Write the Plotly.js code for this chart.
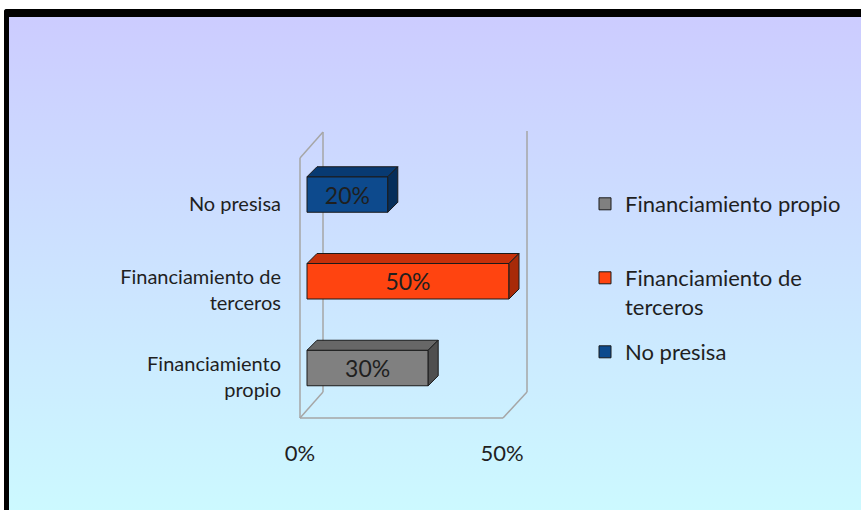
<!DOCTYPE html>
<html>
<head>
<meta charset="utf-8">
<script src="https://cdn.plot.ly/plotly-3.0.1.min.js"></script>
<style>
  html, body { margin: 0; padding: 0; width: 861px; height: 510px; overflow: hidden; background: #ffffff; }
  #frame {
    position: absolute; left: 4px; top: 9px; width: 900px; height: 560px;
    border-top: 8px solid #000; border-left: 5px solid #000; border-top-left-radius: 3px;
    background: linear-gradient(to bottom, #ccccff 0%, #ccffff 100%);
  }
  #chart { position: absolute; left: 0; top: 0; width: 861px; height: 510px; }
</style>
</head>
<body>
<div id="frame"></div>
<div id="chart"></div>
<script>
// ---- data ----
const categories = ['Financiamiento propio', 'Financiamiento de terceros', 'No presisa'];
const axisLabels = ['Financiamiento<br>propio', 'Financiamiento de<br>terceros', 'No presisa'];
const legendLabels = ['Financiamiento propio', 'Financiamiento de<br>terceros', 'No presisa'];
const values = [0.30, 0.50, 0.20];
const barLabels = ['30%', '50%', '20%'];
const xTickVals = [0, 0.5];
const xTickText = ['0%', '50%'];

// ---- styles ----
const frontColors = ['#808080', '#ff4410', '#0d4a8d'];
const topColors   = ['#676767', '#c6300a', '#083a72'];
const sideColors  = ['#4f4f4f', '#a82a08', '#062e5a'];
const FONT = 'Lato, "Open Sans", sans-serif';
const TXT = '#1f1f1f';

const W = 861, H = 510;
const plotL = 300, plotR = 527, plotT = 131, plotB = 418;
const pxPerX = 404;               // pixels per unit on x
const xRange = [-7 / pxPerX, (plotR - plotL - 7) / pxPerX];
const pxPerY = 86.75;
const yRange = [-(plotB - 368) / pxPerY, (368 - plotT) / pxPerY];
const barW = 35.5 / pxPerY;
const dx = 10 / pxPerX, dy = 10 / pxPerY;

const pos = categories.map((c, i) => i);

const traces = categories.map((c, i) => ({
  type: 'bar', orientation: 'h',
  x: [values[i]], y: [pos[i]],
  width: barW,
  name: legendLabels[i],
  legend: i === 0 ? 'legend' : 'legend' + (i + 1),
  marker: { color: frontColors[i], line: { color: '#1a1a1a', width: 1 } },
  text: [barLabels[i]], textposition: 'inside', insidetextanchor: 'middle',
  textangle: 0, constraintext: 'none',
  textfont: { family: FONT, size: 23, color: TXT },
  hoverinfo: 'skip'
}));

const shapes = [];
categories.forEach((c, i) => {
  const v = values[i], yt = pos[i] + barW / 2, yb = pos[i] - barW / 2;
  shapes.push({
    type: 'path', xref: 'x', yref: 'y', layer: 'above',
    path: `M0,${yt} L${v},${yt} L${v + dx},${yt + dy} L${dx},${yt + dy} Z`,
    fillcolor: topColors[i], line: { color: '#1a1a1a', width: 1 }
  });
  shapes.push({
    type: 'path', xref: 'x', yref: 'y', layer: 'above',
    path: `M${v},${yb} L${v},${yt} L${v + dx},${yt + dy} L${v + dx},${yb + dy} Z`,
    fillcolor: sideColors[i], line: { color: '#1a1a1a', width: 1 }
  });
});

// wall / floor outline (paper coords)
const px = p => (p - plotL) / (plotR - plotL);
const py = p => (plotB - p) / (plotB - plotT);
const wall = { color: '#a6a6a6', width: 1.5 };
const seg = (x0, y0, x1, y1) => ({ type: 'line', xref: 'paper', yref: 'paper', layer: 'below',
  x0: px(x0), y0: py(y0), x1: px(x1), y1: py(y1), line: wall });
shapes.push(seg(300, 158, 300, 418));
shapes.push(seg(323, 132, 323, 392));
shapes.push(seg(300, 158, 323, 132));
shapes.push(seg(300, 418, 323, 392));
shapes.push(seg(300, 418, 503, 418));
shapes.push(seg(503, 418, 527, 392));
shapes.push(seg(527, 392, 527, 131));

const legendBase = {
  xref: 'container', yref: 'container', xanchor: 'left', yanchor: 'top',
  bgcolor: 'rgba(0,0,0,0)', borderwidth: 0, valign: 'top',
  font: { family: FONT, size: 22, color: TXT }, itemclick: false, itemdoubleclick: false
};
const legendX = 585 / W;
const legendTops = [183, 257, 331];

const layout = {
  width: W, height: H,
  paper_bgcolor: 'rgba(0,0,0,0)', plot_bgcolor: 'rgba(0,0,0,0)',
  margin: { l: plotL, r: W - plotR, t: plotT, b: H - plotB, pad: 0 },
  barmode: 'overlay',
  showlegend: true,
  xaxis: {
    range: xRange, showgrid: false, zeroline: false, showline: false,
    tickvals: xTickVals, ticktext: xTickText, ticks: '',
    ticklabelshift: -7, ticklabelstandoff: 20,
    tickfont: { family: FONT, size: 22, color: TXT }, fixedrange: true
  },
  yaxis: {
    range: yRange, showgrid: false, zeroline: false, showline: false,
    tickvals: pos, ticktext: axisLabels, ticks: '',
    ticklabelshift: 9, ticklabelstandoff: 18,
    tickfont: { family: FONT, size: 20, color: TXT }, fixedrange: true
  },
  legend:  Object.assign({}, legendBase, { x: legendX, y: 1 - legendTops[0] / H }),
  legend2: Object.assign({}, legendBase, { x: legendX, y: 1 - legendTops[1] / H }),
  legend3: Object.assign({}, legendBase, { x: legendX, y: 1 - legendTops[2] / H }),
  shapes: shapes
};

Plotly.newPlot('chart', traces, layout, { displayModeBar: false, staticPlot: true });
</script>
</body>
</html>
